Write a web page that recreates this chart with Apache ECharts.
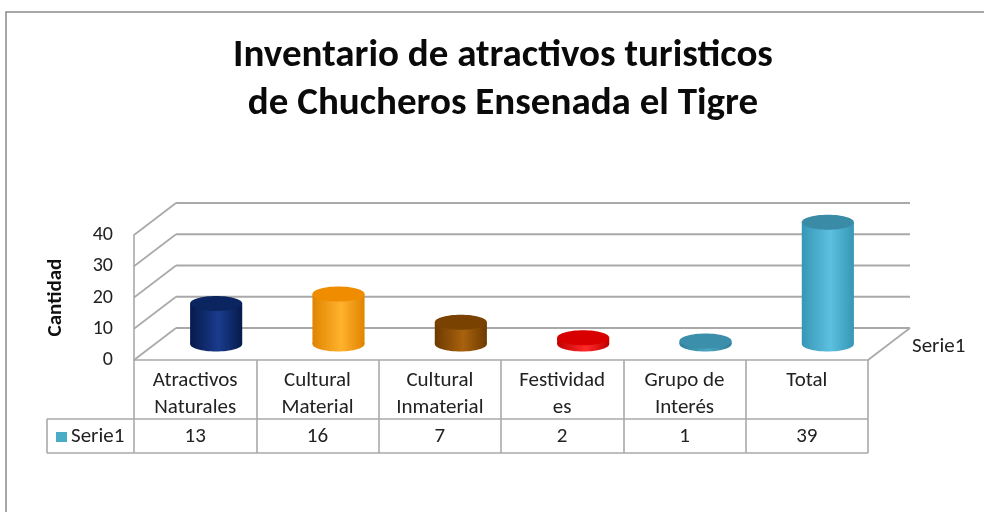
<!DOCTYPE html>
<html>
<head>
<meta charset="utf-8">
<script src="https://cdn.jsdelivr.net/npm/echarts@6/dist/echarts.min.js"></script>
<style>
  html, body { margin: 0; padding: 0; background: #fff; }
  #chart { width: 984px; height: 512px; }
</style>
</head>
<body>
<div id="chart"></div>
<script>
// Data
const titleLines = ['Inventario de atractivos turisticos', 'de Chucheros Ensenada el Tigre'];
const categories = ['Atractivos\nNaturales', 'Cultural\nMaterial', 'Cultural\nInmaterial', 'Festividad\nes', 'Grupo de\nInterés', 'Total'];
const values = [13, 16, 7, 2, 1, 39];
const seriesName = 'Serie1';
const yTicks = [0, 10, 20, 30, 40];
const axisName = 'Cantidad';

// Cylinder colours: [edge, highlight, top]
const colors = [
  ['#061a4a', '#1a3c8e', '#0b2560'],
  ['#e08400', '#ffb22e', '#f08c00'],
  ['#6e3a00', '#a8620e', '#7a4200'],
  ['#c00000', '#ff2a2a', '#d80000'],
  ['#2f7f99', '#4aa6c2', '#3b8fab'],
  ['#3796b6', '#5cc0e0', '#3a8ba6']
];

// 3D depth offset of the back wall
const DX = 42, DY = -32;
const FONT = "Carlito, 'Liberation Sans Narrow', 'DejaVu Sans Condensed', sans-serif";
const LINE = '#a9a9a9';

const chart = echarts.init(document.getElementById('chart'));

function renderFrame(params, api) {
  const cs = params.coordSys;
  const v = api.value(0);
  const p = api.coord([0, v]);
  const xL = cs.x, xR = cs.x + cs.width, y = p[1];
  const children = [
    { type: 'line', shape: { x1: xL, y1: y, x2: xL + DX, y2: y + DY }, style: { stroke: LINE, lineWidth: 1.6 } },
    { type: 'line', shape: { x1: xL + DX, y1: y + DY, x2: xR + DX, y2: y + DY }, style: { stroke: LINE, lineWidth: 2 } }
  ];
  if (v === 0) {
    // floor right edge, series label, data-table rows
    children.push(
      { type: 'line', shape: { x1: xR, y1: y, x2: xR + DX, y2: y + DY }, style: { stroke: LINE, lineWidth: 1.6 } },
      { type: 'text', style: { x: xR + DX + 2, y: y + DY / 2 + 3, text: seriesName, font: '21px ' + FONT, fill: '#222', verticalAlign: 'middle' } },
      { type: 'line', shape: { x1: 47, y1: y + 59, x2: xR, y2: y + 59 }, style: { stroke: LINE, lineWidth: 1.6 } },
      { type: 'line', shape: { x1: 47, y1: y + 93, x2: xR, y2: y + 93 }, style: { stroke: LINE, lineWidth: 1.6 } },
      { type: 'line', shape: { x1: 47, y1: y + 59, x2: 47, y2: y + 93 }, style: { stroke: LINE, lineWidth: 1.6 } },
      { type: 'rect', shape: { x: 56, y: y + 72, width: 11, height: 10 }, style: { fill: '#4bacc6' } },
      { type: 'text', style: { x: 71, y: y + 77, text: seriesName, font: '21px ' + FONT, fill: '#222', verticalAlign: 'middle' } }
    );
  }
  return { type: 'group', children };
}

function renderCylinder(params, api) {
  const i = api.value(0), v = api.value(1);
  const base = api.coord([i, 0]);
  const top = api.coord([i, v]);
  const band = api.size([1, 0])[0];
  const cx = base[0] + DX / 2;
  const yb = base[1] + DY / 2;
  const yt = top[1] + DY / 2;
  const rx = band * 0.213, ry = 7.5;
  const c = colors[i];
  const grad = new echarts.graphic.LinearGradient(0, 0, 1, 0, [
    { offset: 0, color: c[0] },
    { offset: 0.55, color: c[1] },
    { offset: 1, color: c[0] }
  ]);
  return {
    type: 'group',
    children: [
      { type: 'ellipse', shape: { cx: cx, cy: yb, rx: rx, ry: ry }, style: { fill: grad } },
      { type: 'rect', shape: { x: cx - rx, y: yt, width: rx * 2, height: yb - yt }, style: { fill: grad } },
      { type: 'ellipse', shape: { cx: cx, cy: yt, rx: rx, ry: ry }, style: { fill: c[2] } }
    ]
  };
}

function renderValueCell(params, api) {
  const i = api.value(0);
  const p = api.coord([i, 0]);
  return {
    type: 'text',
    style: { x: p[0], y: p[1] + 77, text: String(values[i]), font: '21px ' + FONT, fill: '#222', align: 'center', verticalAlign: 'middle' }
  };
}

chart.setOption({
  animation: false,
  backgroundColor: '#fff',
  graphic: [
    { type: 'rect', shape: { x: 6, y: 12, width: 1000, height: 520 }, style: { fill: 'none', stroke: '#8a8a8a', lineWidth: 1.5 }, z: -10 }
  ],
  title: {
    text: titleLines.join('\n'),
    left: 498,
    textAlign: 'center',
    top: 27,
    textStyle: { fontFamily: FONT, fontWeight: 'bold', fontSize: 39, lineHeight: 48, color: '#0a0a0a' }
  },
  grid: { left: 134, right: 116, top: 235, bottom: 152 },
  xAxis: {
    type: 'category',
    data: categories,
    axisLine: { show: true, lineStyle: { color: LINE, width: 1.6 } },
    axisTick: { show: true, length: 93, interval: 0, lineStyle: { color: LINE, width: 1.6 } },
    axisLabel: { interval: 0, margin: 7, fontFamily: FONT, fontSize: 21, lineHeight: 27, color: '#222' }
  },
  yAxis: {
    type: 'value',
    min: 0, max: 40, interval: 10,
    name: axisName,
    nameLocation: 'middle',
    nameGap: 68,
    nameRotate: 90,
    nameTextStyle: { fontFamily: FONT, fontWeight: 'bold', fontSize: 21, color: '#111' },
    axisLine: { show: true, lineStyle: { color: LINE, width: 1.6 } },
    axisTick: { show: false },
    splitLine: { show: false },
    axisLabel: { margin: 21, fontFamily: FONT, fontSize: 20, color: '#222' }
  },
  series: [
    { type: 'custom', name: 'frame', renderItem: renderFrame, data: yTicks.map(t => [t]), encode: { y: 0 }, silent: true, z: 1 },
    { type: 'custom', name: 'cells', renderItem: renderValueCell, data: values.map((v, i) => [i, v]), encode: { x: 0, y: 1 }, silent: true, z: 2, clip: false },
    { type: 'custom', name: seriesName, renderItem: renderCylinder, data: values.map((v, i) => [i, v]), encode: { x: 0, y: 1 }, z: 3, clip: false }
  ]
});
</script>
</body>
</html>
